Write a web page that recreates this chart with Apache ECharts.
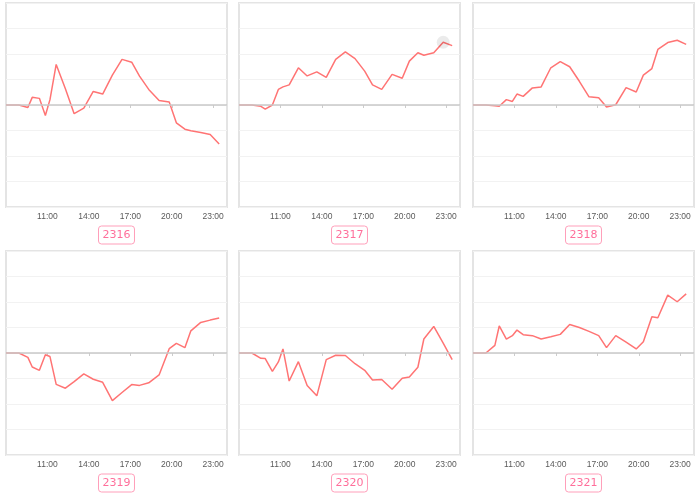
<!DOCTYPE html>
<html>
<head>
<meta charset="utf-8">
<script src="https://cdn.jsdelivr.net/npm/echarts@6/dist/echarts.min.js"></script>
<style>html,body{margin:0;padding:0;background:#fff;}#c{width:700px;height:496px;}</style>
</head>
<body>
<div id="c"></div>
<script>
// Shared sample times (hours of day)
const times = ['08:00','08:56','09:35','09:54','10:25','10:51','11:11','11:38','12:18','12:56','13:38','14:19','15:00','15:42','16:24','17:06','17:40','18:20','19:05','19:49','20:20','20:57','21:23','22:06','22:47','23:26'];
const tickLabels = ['11:00','14:00','17:00','20:00','23:00'];
const names = ['2316','2317','2318','2319','2320','2321'];
const s2316 = [0, 0, -0.10, 0.30, 0.26, -0.41, 0.21, 1.59, 0.64, -0.34, -0.12, 0.53, 0.43, 1.17, 1.79, 1.68, 1.13, 0.61, 0.18, 0.12, -0.70, -0.95, -1.01, -1.08, -1.16, -1.53];
const s2317 = [0, 0, -0.05, -0.16, 0, 0.61, 0.71, 0.79, 1.46, 1.14, 1.30, 1.08, 1.79, 2.08, 1.82, 1.33, 0.79, 0.61, 1.20, 1.05, 1.72, 2.05, 1.95, 2.05, 2.46, 2.33];
const s2318 = [0, 0, -0.03, -0.05, 0.21, 0.14, 0.43, 0.34, 0.67, 0.71, 1.46, 1.70, 1.50, 0.93, 0.32, 0.28, -0.08, 0.01, 0.68, 0.51, 1.17, 1.43, 2.18, 2.45, 2.54, 2.38];
const s2319 = [0, 0, -0.17, -0.55, -0.68, -0.07, -0.14, -1.23, -1.38, -1.12, -0.82, -1.03, -1.15, -1.87, -1.55, -1.24, -1.27, -1.17, -0.86, 0.17, 0.38, 0.21, 0.87, 1.20, 1.29, 1.37];
const s2320 = [0, 0, -0.21, -0.22, -0.72, -0.35, 0.16, -1.10, -0.34, -1.27, -1.68, -0.26, -0.09, -0.10, -0.42, -0.68, -1.06, -1.04, -1.42, -0.99, -0.94, -0.56, 0.55, 1.04, 0.39, -0.26];
const s2321 = [0, 0, 0.30, 1.06, 0.54, 0.68, 0.90, 0.72, 0.68, 0.55, 0.64, 0.73, 1.12, 1.00, 0.85, 0.68, 0.21, 0.68, 0.43, 0.16, 0.44, 1.42, 1.38, 2.27, 2.01, 2.32];
const seriesValues = [s2316, s2317, s2318, s2319, s2320, s2321];
const highlight = {panel: 1, index: 24};

function toHours(t) { const p = t.split(':'); return +p[0] + (+p[1]) / 60; }
const tickHours = tickLabels.map(toHours);

const lefts = [6, 239, 473];
const tops = [3, 251];
const grids = [], xAxes = [], yAxes = [], series = [];
seriesValues.forEach((vals, i) => {
  const col = i % 3, row = Math.floor(i / 3);
  grids.push({left: lefts[col], top: tops[row], width: 221, height: 204, show: true,
    borderColor: '#e4e4e4', borderWidth: 2, backgroundColor: '#fff'});
  xAxes.push({type: 'value', gridIndex: i, min: 8, max: 24,
    name: names[i], nameLocation: 'middle', nameGap: 19,
    nameTextStyle: {color: '#ff6f9b', fontSize: 11, fontFamily: 'DejaVu Sans', borderColor: '#ff9fba', borderWidth: 1, borderRadius: 3, padding: [4, 4, 3, 4]},
    axisLine: {show: false},
    axisTick: {show: true, customValues: tickHours, length: 3, lineStyle: {color: '#ccc'}},
    axisLabel: {customValues: tickHours, formatter: v => tickLabels[tickHours.indexOf(v)] || '', color: '#5a5a5a', fontSize: 8.5, fontFamily: 'Liberation Sans', margin: 5},
    splitLine: {show: false}});
  yAxes.push({type: 'value', gridIndex: i, min: -4, max: 4, interval: 1,
    axisLine: {show: false}, axisTick: {show: false}, axisLabel: {show: false},
    splitLine: {show: true, lineStyle: {color: '#f2f2f2', width: 1}}});
  const s = {type: 'line', xAxisIndex: i, yAxisIndex: i, data: times.map((t, k) => [toHours(t), vals[k]]),
    showSymbol: false, symbol: 'none', silent: true,
    lineStyle: {color: '#ff7474', width: 1.5}, itemStyle: {color: '#ff7474'},
    markLine: {silent: true, symbol: 'none', label: {show: false},
      lineStyle: {color: '#c8c8c8', width: 1.5, type: 'solid'}, data: [{yAxis: 0}]}};
  if (i === highlight.panel) {
    s.markPoint = {silent: true, symbol: 'circle', symbolSize: 13, label: {show: false},
      itemStyle: {color: 'rgba(0,0,0,0.08)'},
      data: [{coord: [toHours(times[highlight.index]), vals[highlight.index]]}]};
  }
  series.push(s);
});

const chart = echarts.init(document.getElementById('c'), null, {renderer: 'canvas'});
chart.setOption({animation: false, grid: grids, xAxis: xAxes, yAxis: yAxes, series: series});
</script>
</body>
</html>
